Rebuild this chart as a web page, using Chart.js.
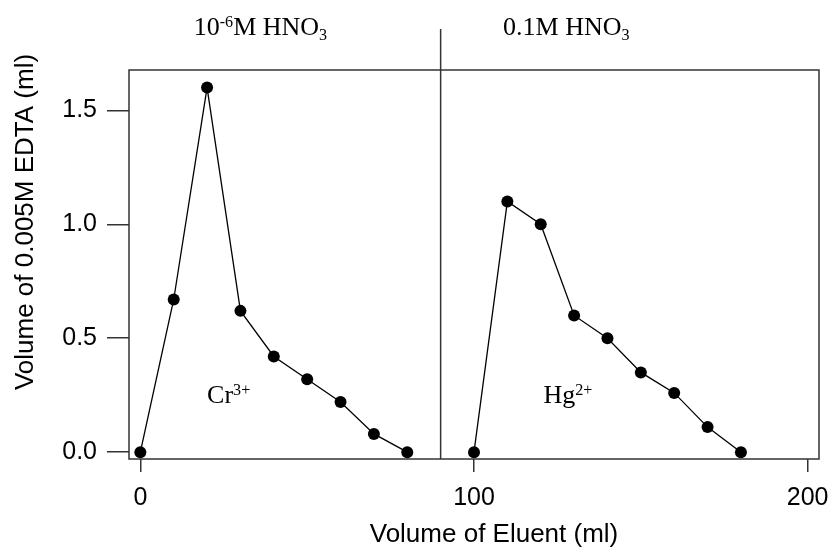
<!DOCTYPE html>
<html>
<head>
<meta charset="utf-8">
<script src="https://cdn.jsdelivr.net/npm/chart.js@4"></script>
<style>
  html, body { margin: 0; padding: 0; background: #fff; }
</style>
</head>
<body>
<canvas id="graphElution" width="833" height="548"></canvas>
<script>
// === Data ===
// eluent volume (ml) against titre of 0.005M EDTA (ml)
var crVolume = [0, 10, 20, 30, 40, 50, 60, 70, 80]
var crEdta   = [0.0, 0.67, 1.60, 0.62, 0.42, 0.32, 0.22, 0.08, 0.0]
var hgVolume = [100, 110, 120, 130, 140, 150, 160, 170, 180]
var hgEdta   = [0.0, 1.10, 1.00, 0.60, 0.50, 0.35, 0.26, 0.11, 0.0]
var xTicks = [0, 100, 200]
var yTicks = [0, 0.5, 1.0, 1.5]
var switchVolume = 90 // eluent changed from 10^-6M to 0.1M HNO3 here

var xTitle = 'Volume of Eluent (ml)'
var yTitle = 'Volume of 0.005M EDTA (ml)'

var sans = '"Liberation Sans", Arial, sans-serif'
var serif = '"Liberation Serif", "Times New Roman", serif'

function toPoints(xs, ys) {
    var pts = []
    for (var i = 0; i < xs.length; i++) pts.push({ x: xs[i], y: ys[i] })
    return pts
}

// write a label made of normal / superscript / subscript pieces
function drawRich(ctx, parts, x, y, size) {
    ctx.textAlign = 'left'
    ctx.textBaseline = 'alphabetic'
    parts.forEach(function (p) {
        var s = size, dy = 0
        if (p.sup) { s = size * 0.62; dy = -size * 0.3 }
        if (p.sub) { s = size * 0.62; dy = size * 0.18 }
        ctx.font = s + 'px ' + serif
        ctx.fillText(p.t, x, y + dy)
        x += ctx.measureText(p.t).width
    })
}

// === Frame, divider line and text ===
var framePlugin = {
    id: 'frame',
    afterDraw: function (chart) {
        var ctx = chart.ctx
        var area = chart.chartArea
        var xs = chart.scales.x, ys = chart.scales.y
        ctx.save()
        ctx.strokeStyle = '#333'
        ctx.lineWidth = 1.5
        ctx.strokeRect(area.left, area.top, area.right - area.left, area.bottom - area.top)

        // divider between the two eluents, runs up past the frame
        var xd = xs.getPixelForValue(switchVolume)
        ctx.beginPath()
        ctx.moveTo(xd, area.top - 41)
        ctx.lineTo(xd, area.bottom)
        ctx.stroke()

        ctx.fillStyle = '#000'
        drawRich(ctx, [{ t: '10' }, { t: '-6', sup: true }, { t: 'M HNO' }, { t: '3', sub: true }],
            xs.getPixelForValue(16), area.top - 35, 26)
        drawRich(ctx, [{ t: '0.1M HNO' }, { t: '3', sub: true }],
            xs.getPixelForValue(108.7), area.top - 35, 26)
        drawRich(ctx, [{ t: 'Cr' }, { t: '3+', sup: true }],
            xs.getPixelForValue(20), ys.getPixelForValue(0.217), 26)
        drawRich(ctx, [{ t: 'Hg' }, { t: '2+', sup: true }],
            xs.getPixelForValue(120.8), ys.getPixelForValue(0.217), 26)

        // axis titles
        ctx.font = '26px ' + sans
        ctx.textAlign = 'center'
        ctx.textBaseline = 'alphabetic'
        ctx.fillText(xTitle, (area.left + area.right) / 2 + 20, 542)
        ctx.translate(33, 222)
        ctx.rotate(-Math.PI / 2)
        ctx.fillText(yTitle, 0, 0)
        ctx.restore()
    }
}

var seriesStyle = {
    showLine: true,
    borderColor: '#000',
    borderWidth: 1.3,
    pointRadius: 6,
    pointHoverRadius: 6,
    pointBackgroundColor: '#000',
    pointBorderWidth: 0,
    fill: false
}

var config = {
    type: 'scatter',
    data: {
        datasets: [
            Object.assign({ label: 'Cr3+', data: toPoints(crVolume, crEdta) }, seriesStyle),
            Object.assign({ label: 'Hg2+', data: toPoints(hgVolume, hgEdta) }, seriesStyle)
        ]
    },
    options: {
        responsive: false,
        animation: false,
        layout: { padding: { top: 70, right: 14, left: 0, bottom: 0 } },
        plugins: {
            legend: { display: false },
            tooltip: { enabled: false }
        },
        scales: {
            x: {
                type: 'linear',
                min: -3.4,
                max: 203.4,
                afterBuildTicks: function (s) { s.ticks = xTicks.map(function (v) { return { value: v } }) },
                afterFit: function (s) {
                    s.height = 89
                    s.paddingLeft = 0
                    s.paddingRight = 0 // keep the "200" label from shrinking the plot
                },
                border: { display: false },
                grid: { drawOnChartArea: false, tickLength: 13, color: '#333', lineWidth: 1.5 },
                ticks: {
                    color: '#000',
                    padding: 11,
                    maxRotation: 0,
                    autoSkip: false,
                    font: { family: sans, size: 25 }
                }
            },
            y: {
                type: 'linear',
                min: -0.03,
                max: 1.677,
                afterBuildTicks: function (s) { s.ticks = yTicks.map(function (v) { return { value: v } }) },
                afterFit: function (s) {
                    s.width = 129
                    s.paddingTop = 0
                    s.paddingBottom = 0
                },
                border: { display: false },
                grid: { drawOnChartArea: false, tickLength: 22, color: '#333', lineWidth: 1.5 },
                ticks: {
                    color: '#000',
                    padding: 10,
                    autoSkip: false,
                    font: { family: sans, size: 25 },
                    callback: function (v) { return v.toFixed(1) }
                }
            }
        }
    },
    plugins: [framePlugin]
}

const ELUgraph = document.getElementById('graphElution').getContext('2d')
new Chart(ELUgraph, config)
</script>
</body>
</html>
